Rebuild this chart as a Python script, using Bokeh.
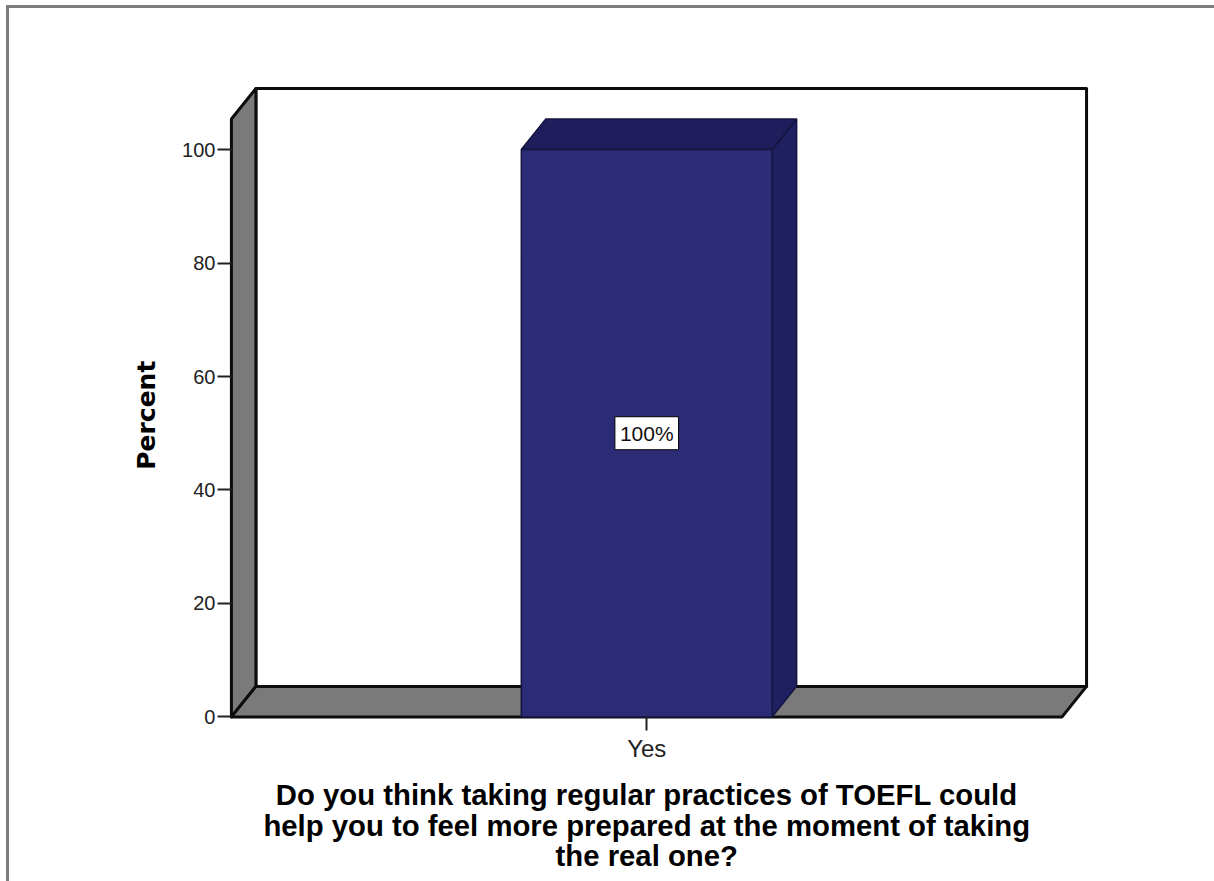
import math
from bokeh.plotting import figure
from bokeh.models import FixedTicker, Range1d, ColumnDataSource, Label
from bokeh.core.properties import value
from bokeh.embed import file_html
from bokeh.resources import INLINE

categories = ["Yes"]
percent = [100]
bar_labels = ["100%"]
y_ticks = [0, 20, 40, 60, 80, 100]
x_title_lines = ["Do you think taking regular practices of TOEFL could",
                 "help you to feel more prepared at the moment of taking",
                 "the real one?"]
y_title = "Percent"

# geometry of the pseudo-3D box, in scale units
UX, UY = 831.0, 5.67           # px per unit
HALF = 0.5                     # half width of the front plane
BAR_W = 0.302
DX, DY = 24.5 / UX, 30.5 / UY  # depth offset
Y_TOP = (716 - 88 - 30.5) / UY # front-plane top

WALL = "#7a7a7a"
FRONT = "#2b2c75"
TOP = "#1f1d5c"
SIDE = "#1e2060"

# page position of the figure (left/top image border sit just outside it)
ORG_X, ORG_Y = 9, 8
W, H = 1214 - ORG_X, 881 - ORG_Y

def sx(px):
    return (px - 645.5) / UX
def sy(py):
    return (716 - py) / UY

p = figure(width=W, height=H, output_backend="svg", toolbar_location=None,
           x_range=Range1d(sx(ORG_X - 1), sx(1216.5)),
           y_range=Range1d(sy(883.5), sy(ORG_Y)),
           min_border=0)
p.grid.visible = False
p.outline_line_color = None
p.background_fill_color = "white"
p.border_fill_color = "white"
p.styles = {"margin-left": "6px", "margin-top": "5px",
            "border-left": "3px solid #7d7d7d", "border-top": "3px solid #7d7d7d",
            "box-sizing": "content-box"}

# walls
edge = dict(line_color="#0c0c0c", line_width=3, line_join="round")
p.patch([-HALF + DX, HALF + DX, HALF + DX, -HALF + DX],
        [DY, DY, Y_TOP + DY, Y_TOP + DY], fill_color="white", **edge)
p.patch([-HALF, -HALF + DX, -HALF + DX, -HALF],
        [0, DY, Y_TOP + DY, Y_TOP], fill_color=WALL, **edge)
p.patch([-HALF, HALF, HALF + DX, -HALF + DX],
        [0, 0, DY, DY], fill_color=WALL, **edge)

# bar
bar_edge = dict(line_color="#14143f", line_width=1.5)
for i, v in enumerate(percent):
    l, r = i - BAR_W / 2, i + BAR_W / 2
    p.patch([r, r + DX, r + DX, r], [0, DY, v + DY, v], fill_color=SIDE, **bar_edge)
    p.patch([l, r, r + DX, l + DX], [v, v, v + DY, v + DY], fill_color=TOP, **bar_edge)
    p.quad(left=[l], right=[r], bottom=[0], top=[v], fill_color=FRONT, **bar_edge)

src = ColumnDataSource(dict(x=list(range(len(categories))),
                            y=[v / 2 for v in percent], t=bar_labels))
p.text("x", "y", text="t", source=src, text_align="center", text_baseline="middle",
       text_font=value("Liberation Sans"), text_font_size="21px", text_color="#111111",
       background_fill_color="white", border_line_color="black", border_line_width=1,
       padding=5)

# axes: pinned to the front plane, inside the full-page frame
p.yaxis.ticker = FixedTicker(ticks=y_ticks)
p.xaxis.ticker = FixedTicker(ticks=list(range(len(categories))))
p.xaxis.major_label_overrides = {i: c for i, c in enumerate(categories)}
p.yaxis.fixed_location = -HALF
p.xaxis.fixed_location = 0
for ax in (p.xaxis[0], p.yaxis[0]):
    ax.axis_line_color = None
    ax.minor_tick_line_color = None
    ax.major_tick_in = 0
    ax.major_tick_out = 14
    ax.major_tick_line_color = "#222222"
    ax.major_tick_line_width = 2
    ax.major_label_text_color = "#222222"
    ax.major_label_text_font = "Liberation Sans"
p.yaxis.major_label_text_font_size = "20px"
p.xaxis.major_label_text_font_size = "24px"
p.yaxis.major_label_standoff = 2
p.xaxis.major_label_standoff = 4

# axis titles
p.add_layout(Label(x=sx(145.5), y=sy(414.5), text=y_title, angle=math.pi / 2,
                   text_align="center", text_baseline="middle",
                   text_font="DejaVu Sans", text_font_style="bold",
                   text_font_size="25px", text_color="black"))
for line, py in zip(x_title_lines, (794, 825, 855)):
    p.add_layout(Label(x=0, y=sy(py), text=line, text_align="center",
                       text_baseline="middle", text_font="Liberation Sans",
                       text_font_style="bold", text_font_size="29.3px",
                       text_color="black"))

open("out.html", "w").write(file_html(p, INLINE))
